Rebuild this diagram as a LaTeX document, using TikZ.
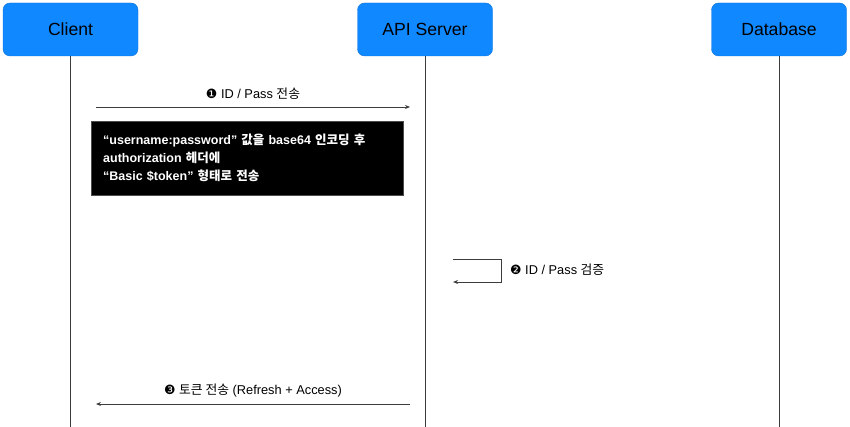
\documentclass[tikz,border=0pt]{standalone}
\usepackage{fontspec}
\setmainfont{Liberation Sans}
\newfontfamily\krfont{Noto Sans CJK KR}
\newfontfamily\symfont{DejaVu Sans}
\newcommand{\kr}[1]{{\krfont #1}}
\newcommand{\stepno}[1]{{\symfont #1}}
\usetikzlibrary{arrows.meta}
\definecolor{actorblue}{RGB}{16,136,255}
\definecolor{linegray}{RGB}{60,60,60}
\tikzset{
  actor/.style={draw=actorblue!85!black,fill=actorblue,rounded corners=7pt,
    minimum width=135pt,minimum height=53pt,inner sep=0pt,
    font=\fontsize{17.6}{20}\selectfont},
  lifeline/.style={draw=linegray,line width=1pt},
  msg/.style={draw=linegray,line width=0.9pt,-{Stealth[length=5pt,width=4pt]}},
  msglabel/.style={inner sep=0pt,font=\fontsize{12.8}{15}\selectfont},
  notebox/.style={fill=black,draw=black!70,text=white,anchor=north west,
    text width=288pt,inner xsep=12pt,inner ysep=0pt,minimum height=74pt,
    align=left,font=\fontsize{12.5}{18}\selectfont\bfseries}
}
\begin{document}
\begin{tikzpicture}[x=1pt,y=-1pt]
        \useasboundingbox (0,0) rectangle (850,427);
        
        % actors
        \node[actor] (client) at (70.5,29.5) {Client};
        \node[actor] (server) at (425,29.5) {API Server};
        \node[actor] (db) at (779,29.5) {Database};
        
        % lifelines
        \coordinate (clientend) at (70.5,427);
        \coordinate (serverend) at (425,427);
        \coordinate (dbend) at (779,427);
        \draw[lifeline] (client) -- (clientend);
        \draw[lifeline] (server) -- (serverend);
        \draw[lifeline] (db) -- (dbend);
        
        % 1 ID / Pass
        \coordinate (sendA) at (96,107);
        \coordinate (sendB) at (410,107);
        \draw[msg] (sendA) -- (sendB);
        \node[msglabel] (sendlbl) at (253,94) {\stepno{❶} ID / Pass \kr{전송}};
        
        \node[notebox] (note) at (91,121) {``username:password'' \kr{값을} base64 \kr{인코딩 후}\\
        authorization \kr{헤더에}\\
        ``Basic \$token'' \kr{형태로 전송}};
        
        % 2 check
        \coordinate (checkA) at (453,259);
        \coordinate (checkB) at (453,282);
        \draw[msg] (checkA) -- ++(48,0) |- (checkB);
        \node[msglabel,anchor=west] (checklbl) at (510,270) {\stepno{❷} ID / Pass \kr{검증}};
        
        % 3 token
        \coordinate (tokenA) at (410,404);
        \coordinate (tokenB) at (96,404);
        \draw[msg] (tokenA) -- (tokenB);
        \node[msglabel] (tokenlbl) at (253,391) {\stepno{❸} \kr{토큰 전송} (Refresh + Access)};
        
\end{tikzpicture}
\end{document}
